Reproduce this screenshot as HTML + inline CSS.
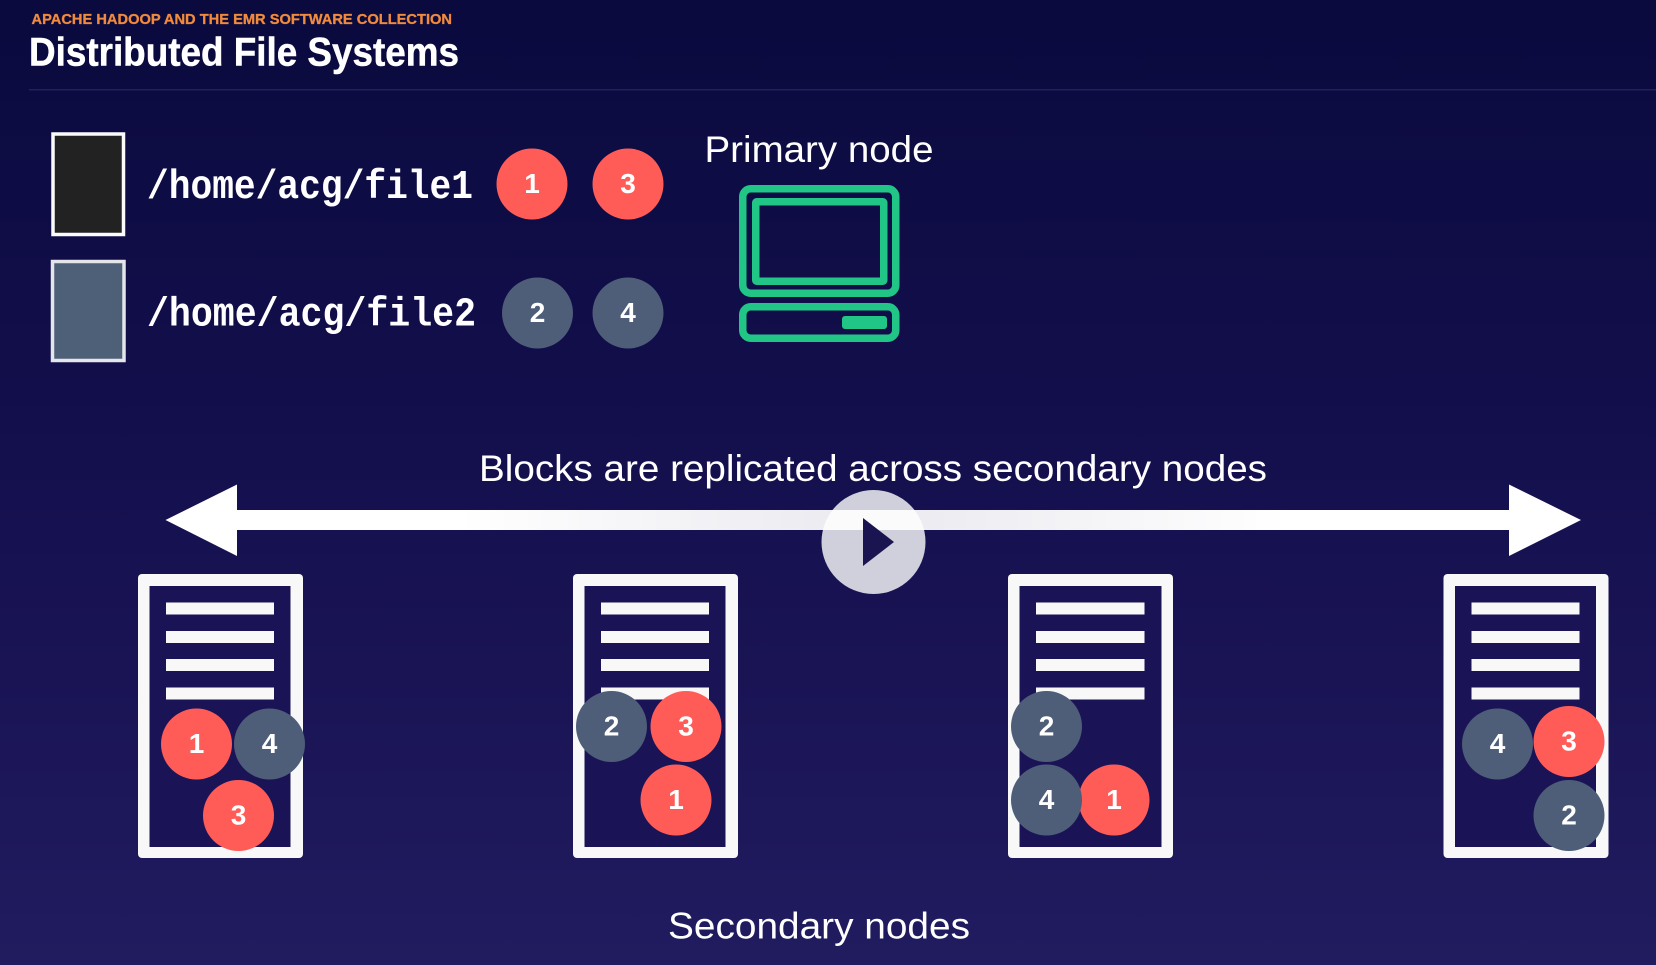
<!DOCTYPE html>
<html lang="en">
<head>
<meta charset="utf-8">
<title>Distributed File Systems</title>
<style>
html,body{margin:0;padding:0;background:#14104c;width:1656px;height:965px;overflow:hidden}
svg{display:block}
text{font-family:"Liberation Sans",sans-serif}
.d{font-size:28px;font-weight:700;fill:#fff;text-anchor:middle}
.m{font-family:"Liberation Mono",monospace;font-size:41px;font-weight:700;fill:#fff}
.l{font-size:37px;fill:#fff}
.r{fill:#ff5c58}
.g{fill:#4e5d78}
.b{fill:#f8f8f9}
</style>
</head>
<body>
<svg width="1656" height="965" viewBox="0 0 1656 965" xmlns="http://www.w3.org/2000/svg">
<defs>
<linearGradient id="bg" x1="0" y1="0" x2="0" y2="1">
<stop offset="0" stop-color="#0a0a3e"/>
<stop offset=".4" stop-color="#120e4b"/>
<stop offset=".7" stop-color="#1a1455"/>
<stop offset="1" stop-color="#201c5f"/>
</linearGradient>
<linearGradient id="fadeL" x1="0" y1="0" x2="1" y2="0">
<stop offset="0" stop-color="#fff"/>
<stop offset="1" stop-color="#e9e9ef"/>
</linearGradient>
<linearGradient id="fadeR" x1="1" y1="0" x2="0" y2="0">
<stop offset="0" stop-color="#fff"/>
<stop offset="1" stop-color="#e9e9ef"/>
</linearGradient>
</defs>
<rect width="1656" height="965" fill="url(#bg)"/>

<text x="31.500" y="24" font-size="14.500" font-weight="700" fill="#f08a3c" stroke="#f08a3c" stroke-width=".3" textLength="420.500" lengthAdjust="spacingAndGlyphs">APACHE HADOOP AND THE EMR SOFTWARE COLLECTION</text>
<text x="29" y="65.500" font-size="40" font-weight="700" fill="#fff" stroke="#fff" stroke-width=".5" textLength="430" lengthAdjust="spacingAndGlyphs">Distributed File Systems</text>
<rect x="29" y="89" width="1627" height="1.500" fill="#221f5c"/>

<rect x="53" y="134" width="70.500" height="100.500" fill="#222222" stroke="#fbfbfb" stroke-width="3.500"/>
<rect x="52.500" y="261.500" width="71.500" height="99" fill="#4e5f78" stroke="#e4e6ea" stroke-width="3.500"/>
<text class="m" x="147" y="198" textLength="326" lengthAdjust="spacingAndGlyphs">/home/acg/file1</text>
<text class="m" x="147" y="325.500" textLength="329" lengthAdjust="spacingAndGlyphs">/home/acg/file2</text>

<circle class="r" cx="532" cy="184" r="35.500"/><text class="d" x="532" y="193">1</text>
<circle class="r" cx="628" cy="184" r="35.500"/><text class="d" x="628" y="193">3</text>
<circle class="g" cx="537.500" cy="313" r="35.500"/><text class="d" x="537.500" y="322">2</text>
<circle class="g" cx="628" cy="313" r="35.500"/><text class="d" x="628" y="322">4</text>

<text class="l" x="704.500" y="162" textLength="229" lengthAdjust="spacingAndGlyphs">Primary node</text>
<g fill="none" stroke="#21c687" stroke-width="7.500">
<rect x="742.750" y="188.750" width="153" height="104.500" rx="8"/>
<rect x="755.750" y="201.750" width="128" height="79.500" rx="1"/>
<rect x="742.750" y="306.750" width="153" height="31.500" rx="8"/>
</g>
<rect x="842" y="316" width="45" height="13" rx="3" fill="#21c687"/>

<text class="l" x="479" y="481" textLength="788" lengthAdjust="spacingAndGlyphs">Blocks are replicated across secondary nodes</text>

<polygon fill="#fff" points="165.500,520 237,484.500 237,510 1509,510 1509,484.500 1581,520 1509,556 1509,530 237,530 237,556"/>
<rect x="460" y="510" width="414" height="20" fill="url(#fadeL)"/>
<rect x="874" y="510" width="414" height="20" fill="url(#fadeR)"/>
<circle cx="873.500" cy="542" r="52" fill="#fff" fill-opacity=".8"/>
<polygon points="863,518 894,542 863,566" fill="#1a1450"/>

<!-- Server 1 -->
<g>
<rect x="138" y="574" width="165" height="284" rx="4" class="b"/>
<rect x="149.500" y="586" width="141" height="261" fill="#1a1456"/>
<rect x="166" y="602.500" width="108" height="12" class="b"/>
<rect x="166" y="631" width="108" height="12" class="b"/>
<rect x="166" y="659" width="108" height="12" class="b"/>
<rect x="166" y="687.500" width="108" height="12" class="b"/>
<circle class="r" cx="196.500" cy="744" r="35.500"/><text class="d" x="196.500" y="753">1</text>
<circle class="g" cx="269.500" cy="744" r="35.500"/><text class="d" x="269.500" y="753">4</text>
<circle class="r" cx="238.500" cy="815.500" r="35.500"/><text class="d" x="238.500" y="824.500">3</text>
</g>

<!-- Server 2 -->
<g>
<rect x="573" y="574" width="165" height="284" rx="4" class="b"/>
<rect x="584.500" y="586" width="141" height="261" fill="#1a1456"/>
<rect x="601" y="602.500" width="108" height="12" class="b"/>
<rect x="601" y="631" width="108" height="12" class="b"/>
<rect x="601" y="659" width="108" height="12" class="b"/>
<rect x="601" y="687.500" width="108" height="12" class="b"/>
<circle class="g" cx="611.500" cy="726.500" r="35.500"/><text class="d" x="611.500" y="735.500">2</text>
<circle class="r" cx="686" cy="726.500" r="35.500"/><text class="d" x="686" y="735.500">3</text>
<circle class="r" cx="676" cy="800" r="35.500"/><text class="d" x="676" y="809">1</text>
</g>

<!-- Server 3 -->
<g>
<rect x="1008" y="574" width="165" height="284" rx="4" class="b"/>
<rect x="1019.500" y="586" width="142" height="261" fill="#1a1456"/>
<rect x="1036" y="602.500" width="108.500" height="12" class="b"/>
<rect x="1036" y="631" width="108.500" height="12" class="b"/>
<rect x="1036" y="659" width="108.500" height="12" class="b"/>
<rect x="1036" y="687.500" width="108.500" height="12" class="b"/>
<circle class="g" cx="1046.500" cy="726.500" r="35.500"/><text class="d" x="1046.500" y="735.500">2</text>
<circle class="r" cx="1114" cy="800" r="35.500"/><text class="d" x="1114" y="809">1</text>
<circle class="g" cx="1046.500" cy="800" r="35.500"/><text class="d" x="1046.500" y="809">4</text>
</g>

<!-- Server 4 -->
<g>
<rect x="1443.500" y="574" width="165" height="284" rx="4" class="b"/>
<rect x="1455" y="586" width="141" height="261" fill="#1a1456"/>
<rect x="1471.500" y="602.500" width="108" height="12" class="b"/>
<rect x="1471.500" y="631" width="108" height="12" class="b"/>
<rect x="1471.500" y="659" width="108" height="12" class="b"/>
<rect x="1471.500" y="687.500" width="108" height="12" class="b"/>
<circle class="g" cx="1497.500" cy="744" r="35.500"/><text class="d" x="1497.500" y="753">4</text>
<circle class="r" cx="1569" cy="741.500" r="35.500"/><text class="d" x="1569" y="750.500">3</text>
<circle class="g" cx="1569" cy="815.500" r="35.500"/><text class="d" x="1569" y="824.500">2</text>
</g>

<text class="l" x="668" y="938.500" textLength="302" lengthAdjust="spacingAndGlyphs">Secondary nodes</text>
</svg>
</body>
</html>
